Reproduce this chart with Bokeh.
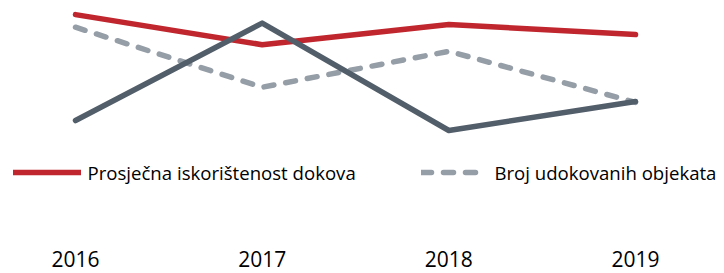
from bokeh.plotting import figure
from bokeh.models import Range1d, Legend, LegendItem, ColumnDataSource
from bokeh.embed import file_html
from bokeh.resources import INLINE

years = ["2016", "2017", "2018", "2019"]
x_pos = [0, 1, 2, 3]
iskoristenost = [94.2, 81.8, 90.1, 86.0]      # Prosječna iskorištenost dokova (index)
udokovani = [89.0, 64.3, 79.1, 58.1]          # Broj udokovanih objekata (index)
treca_serija = [50.6, 90.7, 46.5, 58.4]       # third series (legend entry not shown)

RED = "#C0262D"
GRAY = "#959DA6"
DARK = "#525E6A"
FONT = "Open Sans"

p = figure(width=724, height=273, output_backend="svg", toolbar_location=None,
           x_range=Range1d(-0.4018, 3.4767), y_range=Range1d(0, 100),
           min_border_left=0, min_border_right=0, min_border_top=0, min_border_bottom=30)
p.outline_line_color = None
p.grid.visible = False
p.yaxis.visible = False
p.background_fill_color = "white"

src = ColumnDataSource(dict(x=x_pos, a=iskoristenost, b=udokovani, c=treca_serija))

r_red = p.line("x", "a", source=src, line_color=RED, line_width=5.5, line_cap="round", line_join="round")
r_gray = p.line("x", "b", source=src, line_color=GRAY, line_width=5.5, line_cap="round",
                line_join="round", line_dash="10 12")
r_dark = p.line("x", "c", source=src, line_color=DARK, line_width=5.5, line_cap="round", line_join="round")

ax = p.xaxis[0]
ax.ticker = x_pos
ax.major_label_overrides = {i: y for i, y in zip(x_pos, years)}
ax.axis_line_color = None
ax.major_tick_line_color = None
ax.minor_tick_line_color = None
ax.major_tick_out = 0
ax.major_tick_in = 0
ax.major_label_standoff = 7
ax.major_label_text_font = FONT
ax.major_label_text_font_size = "21px"
ax.major_label_text_color = "black"

def make_legend(label, renderer, x, y, gw, standoff):
    lg = Legend(items=[LegendItem(label=label, renderers=[renderer])], location=(x, y),
                orientation="horizontal", padding=0, margin=0, border_line_color=None,
                background_fill_alpha=0, glyph_width=gw, glyph_height=24, label_height=24,
                label_standoff=standoff, label_text_font=FONT, label_text_font_size="18.6px",
                label_text_color="black")
    return lg

p.add_layout(make_legend("Prosječna iskorištenost dokova", r_red, 12.5, 58.3, 68, 7), "center")
p.add_layout(make_legend("Broj udokovanih objekata", r_gray, 420.5, 58.3, 59, 15), "center")

open("out.html", "w").write(file_html(p, INLINE))
